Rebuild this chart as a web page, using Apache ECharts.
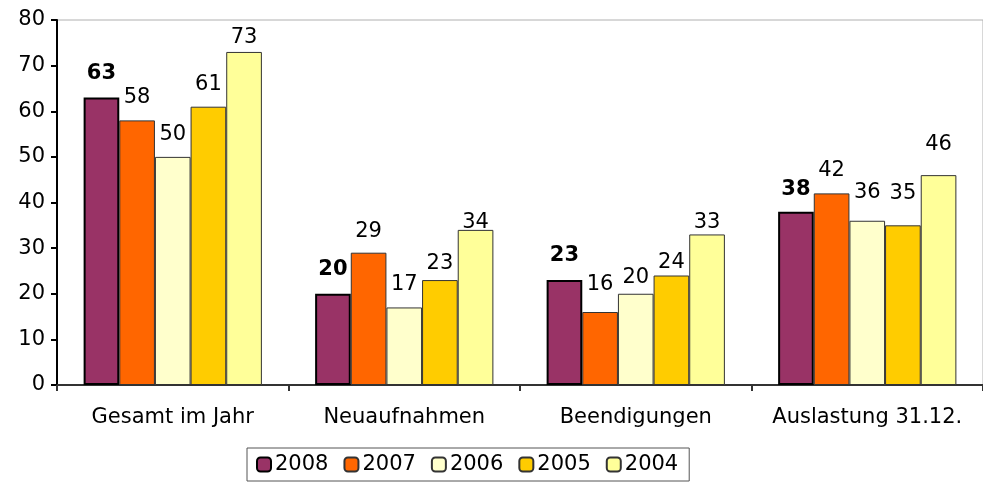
<!DOCTYPE html>
<html><head><meta charset="utf-8">
<script src="https://cdn.jsdelivr.net/npm/echarts@6/dist/echarts.min.js"></script>
<style>html,body{margin:0;padding:0;background:#fff}#c{width:983px;height:482px}</style>
</head><body><div id="c"></div>
<script>
const categories = ['Gesamt im Jahr','Neuaufnahmen','Beendigungen','Auslastung 31.12.'];
const seriesNames = ['2008','2007','2006','2005','2004'];
const v2008 = [63,20,23,38];
const v2007 = [58,29,16,42];
const v2006 = [50,17,20,36];
const v2005 = [61,23,24,35];
const v2004 = [73,34,33,46];
const yTicks = [0,10,20,30,40,50,60,70,80];

// label placement (style only): gap in px between bar top and label
const labelDist = [
  [14,13.5,14,12],
  [12.5,11,17,12],
  [12,12,6,18],
  [12,6,2,21],
  [4,-3,1,20]
];

const values = [v2008,v2007,v2006,v2005,v2004];
const colors = ['#993366','#FF6600','#FFFFCC','#FFCC00','#FFFF99'];
const font = 'DejaVu Sans, Liberation Sans, Arial, sans-serif';
const fs = 21;

const chart = echarts.init(document.getElementById('c'));
chart.setOption({
  animation:false,
  textStyle:{fontFamily:font},
  grid:{left:57,right:0,top:20,bottom:97,show:true,borderColor:'#b0b0b0',borderWidth:1,backgroundColor:'transparent'},
  legend:{
    left:247, top:448,
    data:seriesNames,
    itemWidth:14,itemHeight:14,itemGap:15,
    padding:[6,11,6,9],
    borderColor:'#555',borderWidth:1,
    textStyle:{fontSize:fs,color:'#000',fontFamily:font,padding:[0,0,0,-1]}
  },
  xAxis:{
    type:'category',data:categories,
    axisLine:{lineStyle:{color:'#333',width:2}},
    axisTick:{show:true,length:6,lineStyle:{color:'#333',width:2}},
    axisLabel:{fontSize:fs,color:'#000',margin:22,fontFamily:font,interval:0}
  },
  yAxis:{
    type:'value',min:0,max:80,interval:10,
    axisLine:{show:true,lineStyle:{color:'#000',width:2}},
    axisTick:{show:true,length:6,lineStyle:{color:'#000',width:2}},
    splitLine:{show:false},
    axisLabel:{fontSize:fs,color:'#000',margin:12,fontFamily:font,
      formatter:v=>yTicks.includes(v)?String(v):''}
  },
  series:seriesNames.map((n,i)=>({
    name:n,type:'bar',
    data:values[i].map((v,j)=>({value:v,label:{distance:labelDist[i][j]}})),
    barCategoryGap:'23%',barGap:'0%',
    itemStyle:{color:colors[i],borderColor:i===0?'#000':'#333',borderWidth:i===0?2:1},
    label:{show:true,position:'top',fontSize:fs,color:'#000',
      fontWeight:i===0?'bold':'normal',fontFamily:font}
  }))
});
</script></body></html>
